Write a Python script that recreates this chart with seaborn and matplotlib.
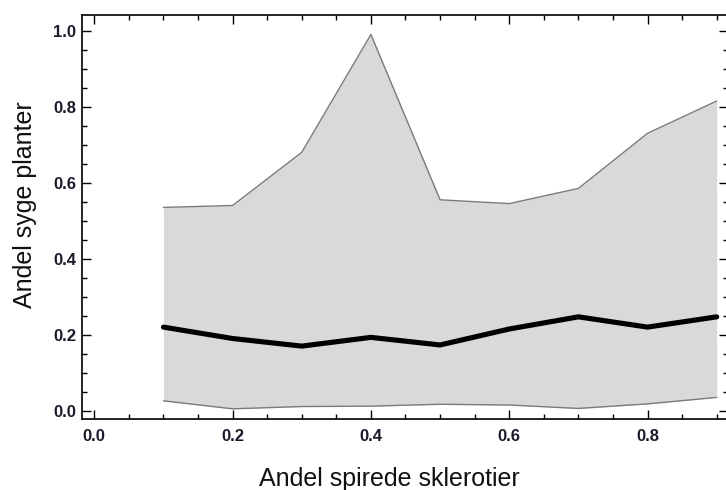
import matplotlib
matplotlib.use("Agg")
import matplotlib.pyplot as plt
from matplotlib.ticker import MultipleLocator
import numpy as np
import pandas as pd
import seaborn as sns

# Proportion of germinated sclerotia (x) and proportion of diseased plants (y)
andel_spirede = [0.1, 0.2, 0.3, 0.4, 0.5, 0.6, 0.7, 0.8, 0.9]
middel = [0.220, 0.190, 0.170, 0.193, 0.173, 0.215, 0.247, 0.220, 0.247]
oevre = [0.535, 0.540, 0.680, 0.990, 0.555, 0.545, 0.585, 0.730, 0.815]
nedre = [0.026, 0.005, 0.011, 0.012, 0.017, 0.015, 0.006, 0.018, 0.035]

x_ticks = [0.0, 0.2, 0.4, 0.6, 0.8]
y_ticks = [0.0, 0.2, 0.4, 0.6, 0.8, 1.0]

df = pd.DataFrame({"x": andel_spirede, "mid": middel, "hi": oevre, "lo": nedre})

sns.set_style("ticks")
plt.rcParams["font.family"] = ["Liberation Sans", "DejaVu Sans"]

fig = plt.figure(figsize=(7.26, 4.90), dpi=100)
ax = fig.add_axes([0.1129, 0.1449, 0.8905, 0.8245])

# Band between lower and upper bounds
ax.fill_between(df["x"], df["lo"], df["hi"], color="#d9d9d9", linewidth=0, zorder=1)
sns.lineplot(data=df, x="x", y="hi", ax=ax, color="#7a7a7a", linewidth=1.0, zorder=2)
sns.lineplot(data=df, x="x", y="lo", ax=ax, color="#7a7a7a", linewidth=1.0, zorder=2)
# Mean curve
sns.lineplot(data=df, x="x", y="mid", ax=ax, color="black", linewidth=3.7, zorder=3)

ax.set_xlim(-0.0178, 0.917)
ax.set_ylim(-0.0218, 1.0413)

ax.xaxis.set_minor_locator(MultipleLocator(0.05))
ax.yaxis.set_minor_locator(MultipleLocator(0.05))
ax.set_xticks(x_ticks)
ax.set_yticks(y_ticks)
ax.set_xticklabels([f"{v:.1f}" for v in x_ticks])
ax.set_yticklabels([f"{v:.1f}" for v in y_ticks])

ax.tick_params(which="both", direction="in", top=True, right=True,
               colors="black", width=1.0)
ax.tick_params(which="major", length=6.5)
ax.tick_params(which="minor", length=3.5)
ax.tick_params(axis="x", which="major", pad=7.5)
ax.tick_params(axis="y", which="major", pad=4)
for lab in ax.get_xticklabels() + ax.get_yticklabels():
    lab.set_fontsize(12)
    lab.set_fontweight("bold")
    lab.set_color("#1a1a2a")

for sp in ax.spines.values():
    sp.set_visible(True)
    sp.set_color("black")
    sp.set_linewidth(1.2)

ax.set_xlabel("Andel spirede sklerotier", fontsize=18, color="#111111")
ax.set_ylabel("Andel syge planter", fontsize=18, color="#111111")
ax.xaxis.set_label_coords(0.476, -0.119)
ax.yaxis.set_label_coords(-0.070, 0.53)

fig.savefig("out.png", dpi=100)
